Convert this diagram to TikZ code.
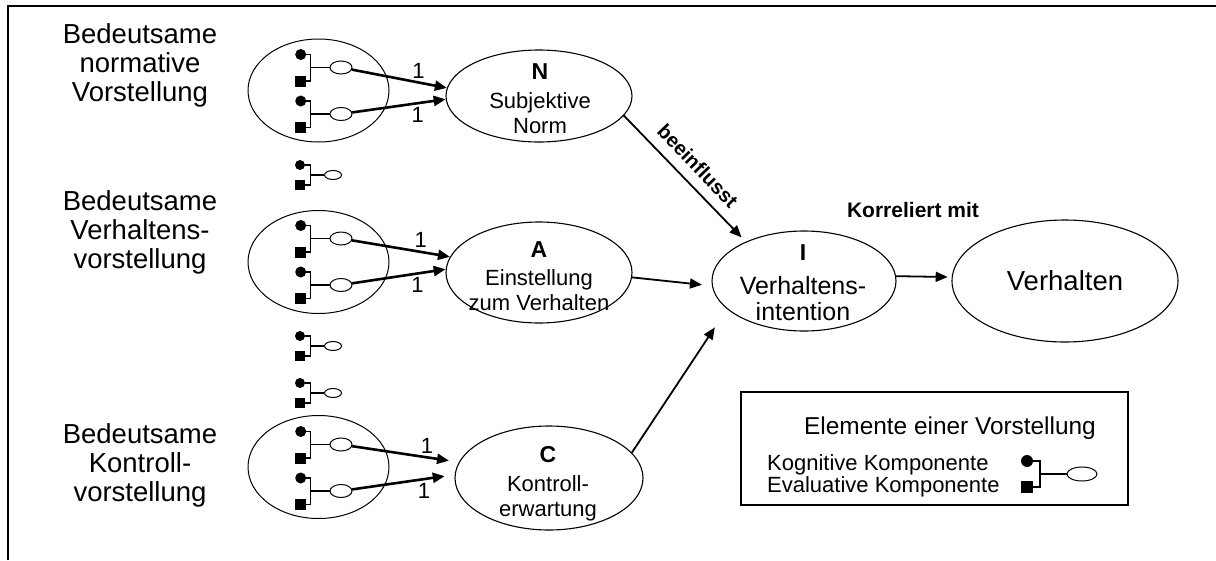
\documentclass[tikz,border=0pt]{standalone}
\usepackage{fontspec}
\setmainfont{Liberation Sans}
\usetikzlibrary{arrows.meta,shapes.geometric,calc}

\begin{document}
\begin{tikzpicture}[x=1pt,y=-1pt,
    hauptell/.style={ellipse,draw,line width=1.1pt,inner sep=0pt},
    grpell/.style={ellipse,draw,line width=1pt,inner sep=0pt,minimum width=141pt,minimum height=103pt},
    kog/.style={circle,fill=black,inner sep=0pt,minimum size=11pt},
    eva/.style={rectangle,fill=black,inner sep=0pt,minimum size=11pt},
    bew/.style={ellipse,draw,fill=white,line width=1pt,inner sep=0pt,minimum width=22pt,minimum height=13pt},
    verb/.style={line width=1.2pt},
    grpfeil/.style={-{Triangle[length=12pt,width=10pt]},line width=2.6pt},
    pfeil/.style={-{Triangle[length=12pt,width=10pt]},line width=1.8pt},
    gruppe/.style={align=center,inner sep=0pt,anchor=north,font=\fontsize{27.5}{29}\selectfont},
    etext/.style={align=center,inner sep=0pt,anchor=north,font=\fontsize{22}{25}\selectfont},
    einslbl/.style={font=\fontsize{22}{22}\selectfont,inner sep=3pt}
  ]
                \useasboundingbox (0,0) rectangle (1216,560);
                \draw[line width=2pt] (8,560) -- (8,6) -- (1216,6);

                % Left labels
                \node[gruppe] (txtN) at (140,23) {Bedeutsame\\normative\\Vorstellung};
                \node[gruppe] (txtA) at (140,190) {Bedeutsame\\Verhaltens-\\vorstellung};
                \node[gruppe] (txtC) at (140,423) {Bedeutsame\\Kontroll-\\vorstellung};

                % Groups
                \node[grpell] (gN) at (318.5,90.5) {};
                \node[grpell] (gA) at (318.5,262) {};
                \node[grpell] (gC) at (318.5,467) {};

                % Elements in the groups
                \foreach \n/\y in {a/67.5,b/114,c/238.5,d/285,e/444.5,f/491}{
                  \node[kog] (k\n) at (300.7,\y-13) {};
                  \node[eva] (q\n) at (300.7,\y+13.5) {};
                  \coordinate (v\n) at (310.7,\y);
                  \node[bew] (b\n) at (341,\y) {};
                  \draw[verb] (k\n) -| (v\n) |- (q\n);
                  \draw[verb] (v\n) -- (b\n);
                }

                % Single elements
                \foreach \n/\y in {g/175,h/346,i/393}{
                  \node[kog,minimum size=10pt] (k\n) at (300,\y-10) {};
                  \node[eva,minimum size=10pt] (q\n) at (300,\y+10) {};
                  \coordinate (v\n) at (310.5,\y);
                  \node[bew,minimum width=17pt,minimum height=9pt] (b\n) at (333,\y) {};
                  \draw[verb] (k\n) -| (v\n) |- (q\n);
                  \draw[verb] (v\n) -- (b\n);
                }

                % Middle ellipses
                \node[hauptell,minimum width=186pt,minimum height=92pt] (N) at (539,96) {};
                \node[hauptell,minimum width=186pt,minimum height=101pt] (A) at (539,272.5) {};
                \node[hauptell,minimum width=188pt,minimum height=104pt] (C) at (549,478) {};
                \node[etext] (Ntxt) at (540,63.7) {{\fontsize{23}{25}\selectfont\bfseries N}\\[4pt]Subjektive\\Norm};
                \node[etext] (Atxt) at (539,241.7) {{\fontsize{23}{25}\selectfont\bfseries A}\\[3pt]Einstellung\\zum Verhalten};
                \node[etext] (Ctxt) at (548,446.7) {{\fontsize{23}{25}\selectfont\bfseries C}\\[4pt]Kontroll-\\erwartung};

                % Right ellipses
                \node[hauptell,minimum width=184pt,minimum height=100pt] (I) at (804,281) {};
                \node[etext,font=\fontsize{25}{26}\selectfont] (Itxt) at (803,244.7) {{\fontsize{23}{25}\selectfont\bfseries I}\\[8pt]Verhaltens-\\intention};
                \node[hauptell,minimum width=226pt,minimum height=122pt,font=\fontsize{27.5}{29}\selectfont] (V) at (1065,281) {Verhalten};

                % Group arcs
                \draw[grpfeil] (ba) -- node[einslbl,pos=0.7,above] (e1) {1} (N.175);
                \draw[grpfeil] (bb) -- node[einslbl,pos=0.7,below] (e2) {1} (N.182);
                \draw[grpfeil] (bc) -- node[einslbl,pos=0.7,above] (e3) {1} (A.170);
                \draw[grpfeil] (bd) -- node[einslbl,pos=0.7,below] (e4) {1} (A.178);
                \draw[grpfeil,shorten >=10pt] (be) -- node[einslbl,pos=0.7,above] (e5) {1} (C.170);
                \draw[grpfeil,shorten >=10pt] (bf) -- node[einslbl,pos=0.7,below] (e6) {1} (C.178);

                % Main arcs
                \draw[pfeil,shorten >=6pt] (N.-13) -- node[sloped,midway,above=10pt,inner sep=0pt,font=\fontsize{20}{20}\selectfont\bfseries] (beein) {beeinflusst} (I.146);
                \draw[pfeil,shorten >=10pt] (A.-3) -- (I.183);
                \draw[pfeil,shorten >=22pt] (C.17) -- (I.200);
                \draw[pfeil,shorten >=4pt] (I.3) -- (V.178);
                \node[font=\fontsize{21}{21}\selectfont\bfseries] (korr) at (913,210) {Korreliert mit};

                % Legend
                \node[draw,line width=1.2pt,minimum width=387pt,minimum height=113pt,inner sep=0pt] (leg) at (934.5,448.5) {};
                \node[font=\fontsize{24.4}{26}\selectfont] (legtitel) at (950,428) {Elemente einer Vorstellung};
                \node[anchor=west,inner sep=0pt,font=\fontsize{22}{24}\selectfont] (legk) at (767,465) {Kognitive Komponente};
                \node[anchor=west,inner sep=0pt,font=\fontsize{22}{24}\selectfont] (lege) at (767,487) {Evaluative Komponente};
                \node[kog,minimum size=12pt] (kL) at (1027,461) {};
                \node[eva,minimum size=12pt] (qL) at (1027,487) {};
                \coordinate (vL) at (1040,474);
                \node[bew,minimum width=30pt,minimum height=14pt] (bL) at (1082,474) {};
                \draw[verb] (kL) -| (vL) |- (qL);
                \draw[verb] (vL) -- (bL);

            \end{tikzpicture}
\end{document}
